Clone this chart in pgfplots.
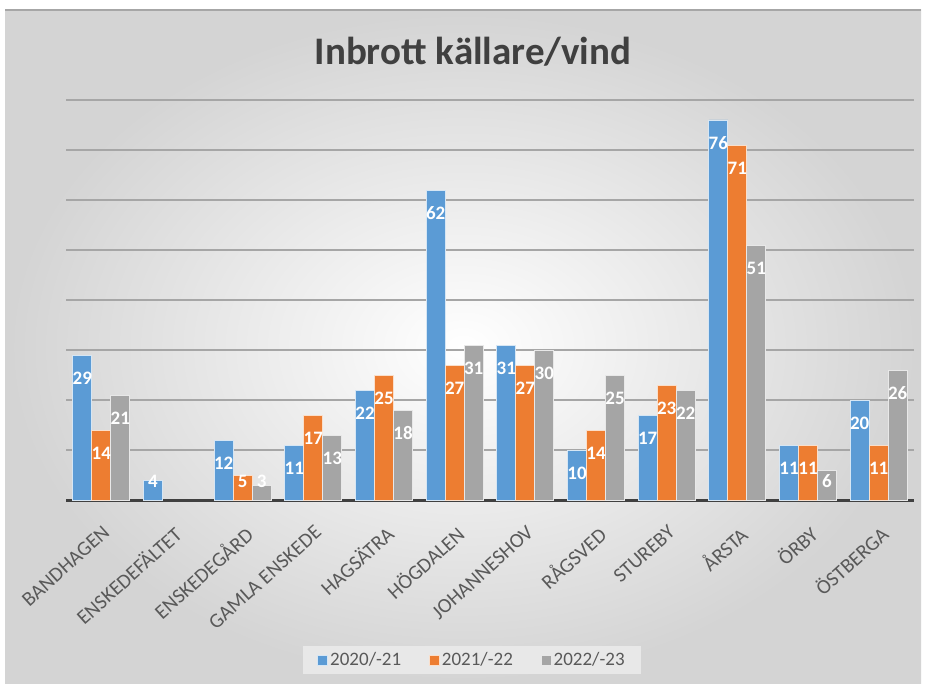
\documentclass[border=0pt]{standalone}
\usepackage{fontspec}
\setmainfont{Carlito}
\usepackage{pgfplots}
\usepackage{pgfplotstable}
\pgfplotsset{compat=1.18}
\definecolor{cblue}{HTML}{5B9BD5}
\definecolor{corange}{HTML}{ED7D31}
\definecolor{cgray}{HTML}{A5A5A5}
\definecolor{txt}{HTML}{595959}
\definecolor{ttl}{HTML}{404040}
\pgfplotstableread{
x a b c
0 29 14 21
1 4 nan nan
2 12 5 3
3 11 17 13
4 22 25 18
5 62 27 31
6 31 27 30
7 10 14 25
8 17 23 22
9 76 71 51
10 11 11 6
11 20 11 26
}\data
\begin{document}
\begin{tikzpicture}[x=1pt,y=1pt]
\useasboundingbox (0,0) rectangle (925,-684);
\fill[white] (0,0) rectangle (925,-684);
\shade[inner color=white, outer color=black!17] (5,-10) rectangle (921,-684);
\draw[black!35, line width=1.5pt] (5,-10) -- (921,-10);
\node[font=\bfseries\fontsize{39}{44}\selectfont, text=ttl] at (473,-52) {Inbrott källare/vind};
\begin{axis}[
  at={(66pt,-500pt)}, anchor=south west,
  scale only axis, width=848pt, height=400pt,
  ymin=0, ymax=80, xmin=-0.5, xmax=11.5,
  ybar=0pt, bar width=19pt,
  axis x line*=bottom,
  axis y line*=left,
  y axis line style={draw=none},
  x axis line style={draw=ttl, line width=3pt, -},
  ytick={10,20,...,80}, yticklabels={}, ytick style={draw=none},
  ymajorgrids, grid style={black!35, line width=1.2pt},
  xtick={0,...,11}, xtick style={draw=none},
  xticklabels={BANDHAGEN,ENSKEDEFÄLTET,ENSKEDEGÅRD,GAMLA ENSKEDE,HAGSÄTRA,HÖGDALEN,JOHANNESHOV,RÅGSVED,STUREBY,ÅRSTA,ÖRBY,ÖSTBERGA},
  xticklabel style={rotate=42, anchor=north east, font=\fontsize{20.5}{22}\selectfont, text=txt, inner sep=1pt, yshift=-14pt, xshift=-12pt},
  /pgf/number format/assume math mode=true,
  visualization depends on={rawy \as \rawy},
  nodes near coords,
  every node near coord/.append style={anchor=center, text=white, font=\bfseries\fontsize{19}{20}\selectfont, yshift={(5*max(-4.7,3.8-\rawy))*1pt}},
  legend columns=3,
  legend style={at={(0.4788,-0.4)}, anchor=center, fill=black!9, draw=none, font=\fontsize{19}{21}\selectfont, text=txt, inner xsep=14pt, inner ysep=5pt, /tikz/every even column/.append style={column sep=26pt}},
  legend image code/.code={\fill[#1] (0pt,-5pt) rectangle (10pt,5pt);},
  legend cell align=left,
]
\addplot[fill=cblue, draw=white!75!cblue, line width=0.8pt] table[x=x,y=a] {\data};
\addplot[fill=corange, draw=white!75!corange, line width=0.8pt] table[x=x,y=b] {\data};
\addplot[fill=cgray, draw=white!75!cgray, line width=0.8pt] table[x=x,y=c] {\data};
\legend{2020/-21,2021/-22,2022/-23}
\end{axis}
\end{tikzpicture}
\end{document}
